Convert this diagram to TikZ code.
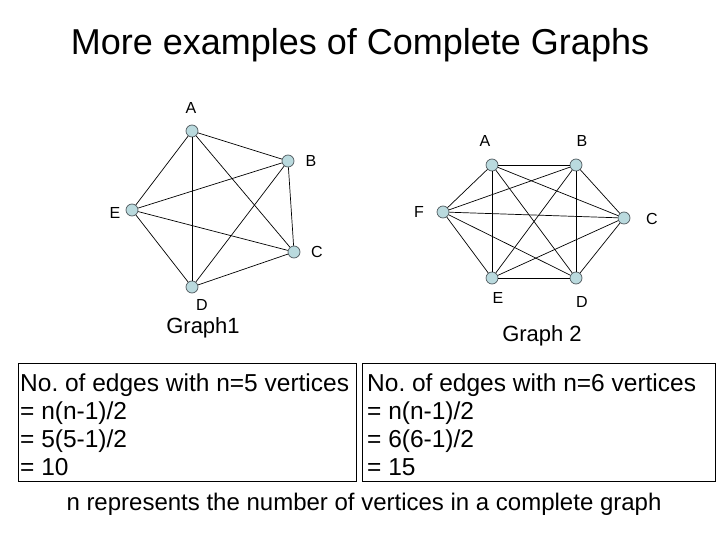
\documentclass[tikz,border=0pt]{standalone}
\usepackage{fontspec}
\setmainfont{Liberation Sans}
\frenchspacing
\definecolor{vfill}{RGB}{186,218,222}
\definecolor{vdraw}{RGB}{80,90,95}
\begin{document}
\begin{tikzpicture}[x=1pt,y=-1pt,
  vtx/.style={circle,fill=vfill,draw=vdraw,line width=0.7pt,minimum size=12pt,inner sep=0pt},
  vlab/.style={font=\fontsize{16}{19}\selectfont,inner sep=0pt},
  edge/.style={line width=0.7pt,black},
  glab/.style={font=\fontsize{22}{26}\selectfont,anchor=base,inner sep=0pt},
  boxtxt/.style={font=\fontsize{24.5}{28}\selectfont,anchor=base west,inner sep=0pt},
  panel/.style={draw=black,line width=0.8pt,inner sep=0pt}]
\useasboundingbox (0,0) rectangle (720,540);
\node[font=\fontsize{36}{43}\selectfont,anchor=base,inner sep=0pt] (title) at (360,55) {More examples of Complete Graphs};
% Graph 1
\node[vtx] (a1) at (192,131) {};
\node[vtx] (b1) at (288,161) {};
\node[vtx] (e1) at (132,210) {};
\node[vtx] (c1) at (294,252) {};
\node[vtx] (d1) at (192,287) {};
\foreach \u/\v in {a1/b1,a1/c1,a1/d1,a1/e1,b1/c1,b1/d1,b1/e1,c1/d1,c1/e1,d1/e1}
  \draw[edge] (\u) -- (\v);
\node[vlab] (la1) at (191,108) {A};
\node[vlab] (lb1) at (311,161) {B};
\node[vlab] (le1) at (115,213) {E};
\node[vlab] (lc1) at (317,252) {C};
\node[vlab] (ld1) at (202,305) {D};
\node[glab] (g1) at (203,333) {Graph1};
% Graph 2
\node[vtx] (a2) at (492,165) {};
\node[vtx] (b2) at (576,165) {};
\node[vtx] (f2) at (443,212) {};
\node[vtx] (c2) at (624,218) {};
\node[vtx] (e2) at (492,278) {};
\node[vtx] (d2) at (576,278) {};
\foreach \u/\v in {a2/b2,a2/c2,a2/d2,a2/e2,a2/f2,b2/c2,b2/d2,b2/e2,b2/f2,c2/d2,c2/e2,c2/f2,d2/e2,d2/f2,e2/f2}
  \draw[edge] (\u) -- (\v);
\node[vlab] (la2) at (485,141) {A};
\node[vlab] (lb2) at (582,141) {B};
\node[vlab] (lf2) at (419,212) {F};
\node[vlab] (lc2) at (652,219) {C};
\node[vlab] (le2) at (498,298) {E};
\node[vlab] (ld2) at (582,302) {D};
\node[glab] (g2) at (542,341) {Graph 2};
% boxes
\node[panel,minimum width=338pt,minimum height=118pt] (box1) at (187,422.5) {};
\node[panel,minimum width=353pt,minimum height=118pt] (box2) at (538.5,422.5) {};
\node[boxtxt] (t11) at (20,391) {No. of edges with n=5 vertices};
\node[boxtxt] (t12) at (20,419) {= n(n-1)/2};
\node[boxtxt] (t13) at (20,447) {= 5(5-1)/2};
\node[boxtxt] (t14) at (20,475) {= 10};
\node[boxtxt] (t21) at (367,391) {No. of edges with n=6 vertices};
\node[boxtxt] (t22) at (367,419) {= n(n-1)/2};
\node[boxtxt] (t23) at (367,447) {= 6(6-1)/2};
\node[boxtxt] (t24) at (367,475) {= 15};
\node[font=\fontsize{24}{28}\selectfont,anchor=base,inner sep=0pt] (note) at (364,510) {n represents the number of vertices in a complete graph};
\end{tikzpicture}
\end{document}
